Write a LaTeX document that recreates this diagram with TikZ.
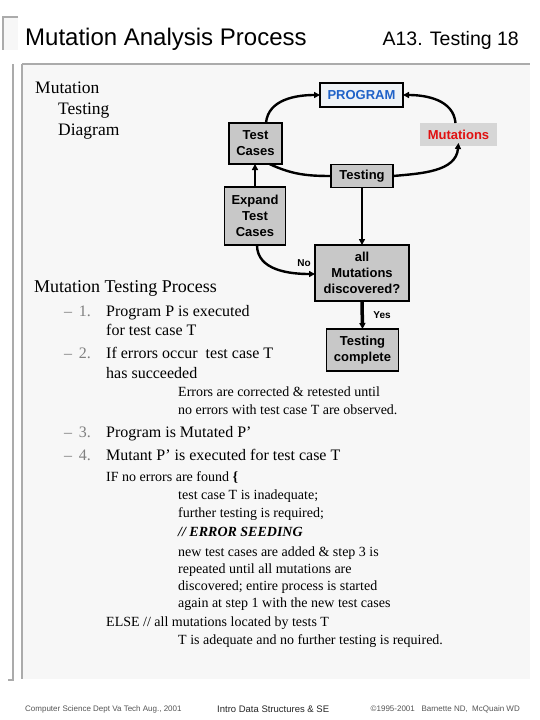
\documentclass[tikz,border=0pt]{standalone}
\usepackage{fontspec}
\setmainfont{Liberation Serif}
\setsansfont{Liberation Sans}
\usetikzlibrary{arrows.meta}
\definecolor{panel}{HTML}{F7F7F7}
\definecolor{rule}{HTML}{ABABAB}
\definecolor{boxgray}{HTML}{C8C8C8}
\definecolor{mutgray}{HTML}{D6D6D6}
\definecolor{progfill}{HTML}{EEF2F6}
\definecolor{progblue}{HTML}{1F62C8}
\definecolor{mutred}{HTML}{E01010}
\definecolor{footgray}{HTML}{555555}
\begin{document}
\begin{tikzpicture}[x=1pt,y=-1pt,
  box/.style={draw=black, line width=1.4pt, fill=boxgray, inner sep=0pt, outer sep=0pt,
    align=center, font=\sffamily\bfseries\fontsize{13}{16}\selectfont},
  conn/.style={line width=2.4pt, draw=black},
  tip/.style={-{Triangle[length=6pt,width=6pt]}},
  lbl/.style={font=\sffamily\bfseries\fontsize{10}{12}\selectfont, inner sep=0pt},
  big/.style={anchor=base west, inner sep=0pt, font=\fontsize{16}{19}\selectfont},
  small/.style={anchor=base west, inner sep=0pt, font=\fontsize{14}{17}\selectfont},
  stepnum/.style={anchor=base west, inner sep=0pt, text=gray, font=\fontsize{16}{19}\selectfont},
  foot/.style={inner sep=0pt, text=footgray, font=\sffamily\fontsize{8}{10}\selectfont}
]
\useasboundingbox (0,0) rectangle (540,720);
\fill[white] (0,0) rectangle (540,720);
% corner decoration
\fill[panel] (3,17) rectangle (18,50);
\draw[rule, line width=1.5pt] (18,17) -- (3,17) -- (3,50);
% main panel
\fill[panel] (22,63) rectangle (530,679);
\draw[rule, line width=2pt] (22,64) -- (530,64);
\draw[rule, line width=2pt] (22,64) -- (22,679);
\draw[rule, line width=2pt] (13,64) -- (13,680) -- (8,680);
% header
\node[anchor=base west, inner sep=0pt, font=\sffamily\fontsize{24}{27}\selectfont] (title) at (25,45) {Mutation Analysis Process};
\node[anchor=base east, inner sep=0pt, font=\sffamily\fontsize{19.5}{22}\selectfont] (slide) at (519,45) {A13. Testing 18};
% diagram nodes
\node[box, minimum width=83pt, minimum height=24pt, fill=progfill, text=progblue] (prog) at (361.5,95) {PROGRAM};
\node[box, minimum width=53pt, minimum height=41pt] (tc) at (255.5,143.5) {Test\\Cases};
\node[box, draw=none, minimum width=77pt, minimum height=23pt, fill=mutgray, text=mutred] (mut) at (458.5,134.5) {Mutations};
\node[box, minimum width=62pt, minimum height=23pt] (test) at (362,176) {Testing};
\node[box, minimum width=61pt, minimum height=58pt] (exp) at (255,216) {Expand\\Test\\Cases};
\node[box, minimum width=94pt, minimum height=56pt] (allm) at (362,273) {all\\Mutations\\discovered?};
\node[box, minimum width=72pt, minimum height=42pt] (done) at (362.5,350) {Testing\\complete};
% connectors
\draw[conn, tip] ([xshift=10.5pt]tc.north) to[out=85,in=180] (prog.west);
\draw[conn, tip] ([xshift=-3pt]mut.north) to[out=95,in=0] (prog.east);
\draw[conn] ([xshift=14pt]tc.south) to[out=-25,in=180] (test.west);
\draw[conn, tip] (test.east) to[out=5,in=-95] ([yshift=3pt]mut.south);
\draw[conn, tip] (exp.north) -- (exp.north |- tc.south);
\draw[conn, line width=2pt, tip] (test.south) -- (test.south |- allm.north);
\draw[conn, tip] ([xshift=2pt]exp.south) to[out=-90,in=180] ([yshift=-1pt]allm.west);
\draw[conn, line width=3.5pt, tip] (allm.south) -- (done.north);
\node[lbl] (no) at (304,263) {No};
\node[lbl] (yes) at (382,315) {Yes};
% left captions
\node[anchor=base west, inner sep=0pt, font=\fontsize{17.5}{20}\selectfont] (d1) at (35,93) {Mutation};
\node[anchor=base west, inner sep=0pt, font=\fontsize{17.5}{20}\selectfont] (d2) at (58,114) {Testing};
\node[anchor=base west, inner sep=0pt, font=\fontsize{17.5}{20}\selectfont] (d3) at (58,135) {Diagram};
\node[anchor=base west, inner sep=0pt, font=\fontsize{18}{20}\selectfont] (mtp) at (34,292) {Mutation Testing Process};
% steps
\node[stepnum] (s1d) at (64,316) {–\ \,1.};
\node[big] (s1a) at (106,316) {Program P is executed};
\node[big] (s1b) at (106,335) {for test case T};
\node[stepnum] (s2d) at (64,358) {–\ \,2.};
\node[big] (s2a) at (106,358) {If errors occur\ \ test case T};
\node[big] (s2b) at (106,378) {has succeeded};
\node[small] (e1) at (178,396) {Errors are corrected \& retested until};
\node[small] (e2) at (178,414) {no errors with test case T are observed.};
\node[stepnum] (s3d) at (64,437) {–\ \,3.};
\node[big] (s3a) at (106,437) {Program is Mutated P’};
\node[stepnum] (s4d) at (64,460) {–\ \,4.};
\node[big] (s4a) at (106,460) {Mutant P’ is executed for test case T};
\node[small] (if) at (106,481) {IF no errors are found \textbf{\{}};
\node[small] (l1) at (178,499) {test case T is inadequate;};
\node[small] (l2) at (178,517) {further testing is required;};
\node[small, font=\bfseries\itshape\fontsize{14}{17}\selectfont] (l3) at (178,536) {// ERROR SEEDING};
\node[small] (l4) at (178,556) {new test cases are added \& step 3 is};
\node[small] (l5) at (178,573) {repeated until all mutations are};
\node[small] (l6) at (178,590) {discovered; entire process is started};
\node[small] (l7) at (178,607) {again at step 1 with the new test cases};
\node[small] (el) at (106,626) {ELSE // all mutations located by tests T};
\node[small] (l8) at (178,644) {T is adequate and no further testing is required.};
% footer
\node[foot, anchor=base west] (f1) at (25,711) {Computer Science Dept Va Tech Aug., 2001};
\node[foot, anchor=base west, text=black!85, font=\sffamily\fontsize{9.5}{11}\selectfont] (f2) at (217,712) {Intro Data Structures \& SE};
\node[foot, anchor=base east] (f3) at (520,711) {©1995-2001\ \ \ Barnette ND,\ \ McQuain WD};
\end{tikzpicture}
\end{document}
